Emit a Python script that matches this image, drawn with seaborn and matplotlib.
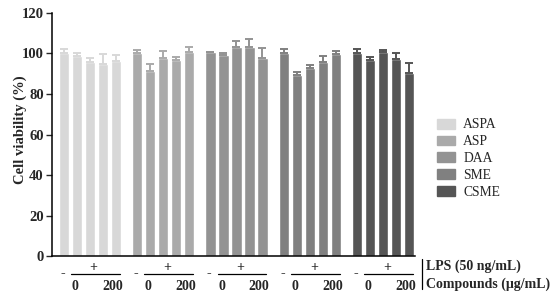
import numpy as np
import pandas as pd
import matplotlib
matplotlib.use("Agg")
import matplotlib.pyplot as plt
import matplotlib.transforms as mtransforms
import seaborn as sns

compounds = ["ASPA", "ASP", "DAA", "SME", "CSME"]
colors = ["#d8d8d8", "#aaaaaa", "#939393", "#808080", "#555555"]
conditions = ["-", "0", "50", "100", "200"]

aspa = [100.3, 98.7, 95.9, 94.7, 96.4]
aspa_err = [1.6, 1.6, 1.8, 4.8, 3.0]
asp = [100.3, 91.4, 97.5, 96.7, 100.5]
asp_err = [1.5, 3.5, 3.8, 1.5, 2.6]
daa = [100.5, 99.3, 103.0, 103.1, 97.5]
daa_err = [0.3, 0.8, 3.3, 4.0, 5.0]
sme = [100.3, 89.3, 92.6, 95.6, 99.7]
sme_err = [1.8, 1.5, 1.6, 3.0, 1.5]
csme = [100.3, 96.5, 100.5, 97.0, 90.5]
csme_err = [2.0, 1.5, 1.0, 3.0, 4.6]

values = [aspa, asp, daa, sme, csme]
errors = [aspa_err, asp_err, daa_err, sme_err, csme_err]

group_pitch = 5.64
rows = []
for g, name in enumerate(compounds):
    for i, cond in enumerate(conditions):
        rows.append({"pos": g * group_pitch + i, "compound": name,
                     "condition": cond, "viability": values[g][i],
                     "err": errors[g][i]})
df = pd.DataFrame(rows)

sns.set_style("white")
plt.rcParams["font.family"] = ["Liberation Serif", "DejaVu Serif"]

fig = plt.figure(figsize=(5.5, 3.02), dpi=100)
ax = fig.add_axes([0.0945, 0.151, 0.66, 0.807])

sns.barplot(data=df, x="pos", y="viability", hue="compound",
            palette=colors, native_scale=True, dodge=False, width=0.78,
            errorbar=None, legend=False, ax=ax, saturation=1)

for g, name in enumerate(compounds):
    sub = df[df["compound"] == name]
    ax.errorbar(sub["pos"], sub["viability"], yerr=[np.zeros(len(sub)), sub["err"]],
                fmt="none", ecolor=colors[g], elinewidth=1.4, capsize=3.2,
                capthick=1.4)

ax.set_xlim(-0.9, 27.0)
ax.set_ylim(0, 120)
ax.set_yticks(range(0, 121, 20))
ax.set_xticks([])
ax.set_xlabel("")
ax.set_ylabel("Cell viability (%)", fontsize=10.5, fontweight="bold")
ax.yaxis.set_label_coords(-0.07, 0.52)
for lab in ax.get_yticklabels():
    lab.set_fontweight("bold")
    lab.set_fontsize(10.5)
ax.tick_params(axis="y", left=True, length=4, width=1, pad=2)
sns.despine(ax=ax)
for sp in ["left", "bottom"]:
    ax.spines[sp].set_color("black")
    ax.spines[sp].set_linewidth(1.1)

# condition labels below the axis
fs = 10
trans = mtransforms.blended_transform_factory(ax.transData, fig.transFigure)
for g in range(len(compounds)):
    x0 = g * group_pitch
    ax.text(x0 - 0.1, 1 - 274 / 302, "-", transform=trans, ha="center",
            va="center", fontsize=fs, fontweight="bold")
    ax.text(x0 + 2.3, 1 - 267 / 302, "+", transform=trans, ha="center",
            va="center", fontsize=fs, fontweight="bold")
    ax.plot([x0 + 0.55, x0 + 4.3], [1 - 274 / 302] * 2, transform=trans,
            color="black", lw=0.9, clip_on=False)
    ax.text(x0 + 0.85, 1 - 287 / 302, "0", transform=trans, ha="center",
            va="center", fontsize=fs, fontweight="bold")
    ax.text(x0 + 3.75, 1 - 287 / 302, "200", transform=trans, ha="center",
            va="center", fontsize=fs, fontweight="bold")

fig.add_artist(plt.Line2D([421.5 / 550] * 2, [1 - 259 / 302, 1 - 289 / 302],
                          color="black", lw=0.9))
fig.text(426 / 550, 1 - 266 / 302, "LPS (50 ng/mL)", ha="left", va="center",
         fontsize=fs, fontweight="bold")
fig.text(426 / 550, 1 - 284 / 302, "Compounds (\u03bcg/mL)", ha="left",
         va="center", fontsize=fs, fontweight="bold")

handles = [plt.Rectangle((0, 0), 1, 1, color=c) for c in colors]
fig.legend(handles, compounds, loc="upper left",
           bbox_to_anchor=(432 / 550, 1 - 113 / 302), frameon=False,
           fontsize=9.8, handlelength=1.3, handleheight=0.75,
           handletextpad=0.6, labelspacing=0.28, borderaxespad=0)

fig.savefig("out.png", dpi=100)
